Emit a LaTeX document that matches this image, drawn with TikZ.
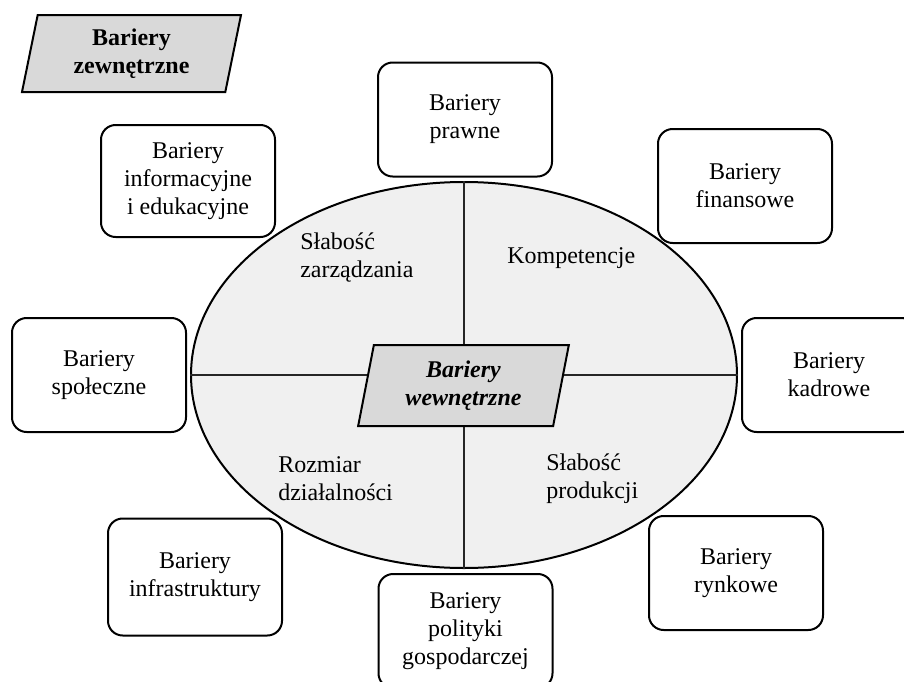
\documentclass[tikz,border=0pt]{standalone}
\usepackage{fontspec}
\setmainfont{Liberation Serif}
\usepackage{tikz}
\usetikzlibrary{shapes.geometric}
\newcommand{\dutext}{\fontsize{18}{21}\selectfont}
\tikzstyle{extbox} = [rectangle, rounded corners=11pt, minimum width=130.5pt, minimum height=85.5pt, align=center, draw=black, line width=1.5pt, fill=white]
\tikzstyle{headbox} = [trapezium, trapezium left angle=75, trapezium right angle=105, trapezium stretches body=true, align=center, draw=black, line width=1.5pt, fill=gray!30, font=\dutext\bfseries]
\tikzstyle{core} = [ellipse, minimum width=409.5pt, minimum height=289.5pt, draw=black, line width=1.5pt, fill=gray!12]
\tikzstyle{area} = [align=left, anchor=west, inner sep=0pt]
\tikzstyle{divider} = [line width=0.9pt, black!85]

\begin{document}
\begin{tikzpicture}[x=0.75pt, y=-0.75pt, font=\dutext]

		\useasboundingbox (0,0) rectangle (904,682);
		\clip (0,0) rectangle (904,682);

		% obszar barier wewnetrznych
		\node (core) [core] at (464,375) {};
		\draw [divider] (core.north) -- (core.south);
		\draw [divider] (core.west) -- (core.east);

		\node (zarz) [area] at (300,258) {Słabość\\zarządzania};
		\node (komp) [area] at (507,258) {Kompetencje};
		\node (rozm) [area] at (278,479) {Rozmiar\\działalności};
		\node (prod) [area] at (546,479) {Słabość\\produkcji};

		\node (wew) [headbox, minimum width=158pt, minimum height=60.75pt, font=\dutext\bfseries\itshape] at (463.5,385.5) {Bariery\\wewnętrzne};

		% bariery zewnetrzne
		\node (zew) [headbox, minimum width=164.25pt, minimum height=57.75pt] at (131.5,53.5) {Bariery\\zewnętrzne};

		\node (prawne) [extbox] at (465,119.5) {Bariery\\prawne};
		\node (finans) [extbox] at (745,186) {Bariery\\finansowe};
		\node (inform) [extbox, minimum height=84pt] at (188,181) {Bariery\\informacyjne\\i edukacyjne};
		\node (spol) [extbox] at (99,375) {Bariery\\społeczne};
		\node (kadr) [extbox] at (829,375) {Bariery\\kadrowe};
		\node (infra) [extbox, minimum height=87.75pt] at (195,577) {Bariery\\infrastruktury};
		\node (polit) [extbox] at (465.5,631) {Bariery\\polityki\\gospodarczej};
		\node (rynek) [extbox] at (736,573) {Bariery\\rynkowe};

	\end{tikzpicture}
\end{document}
